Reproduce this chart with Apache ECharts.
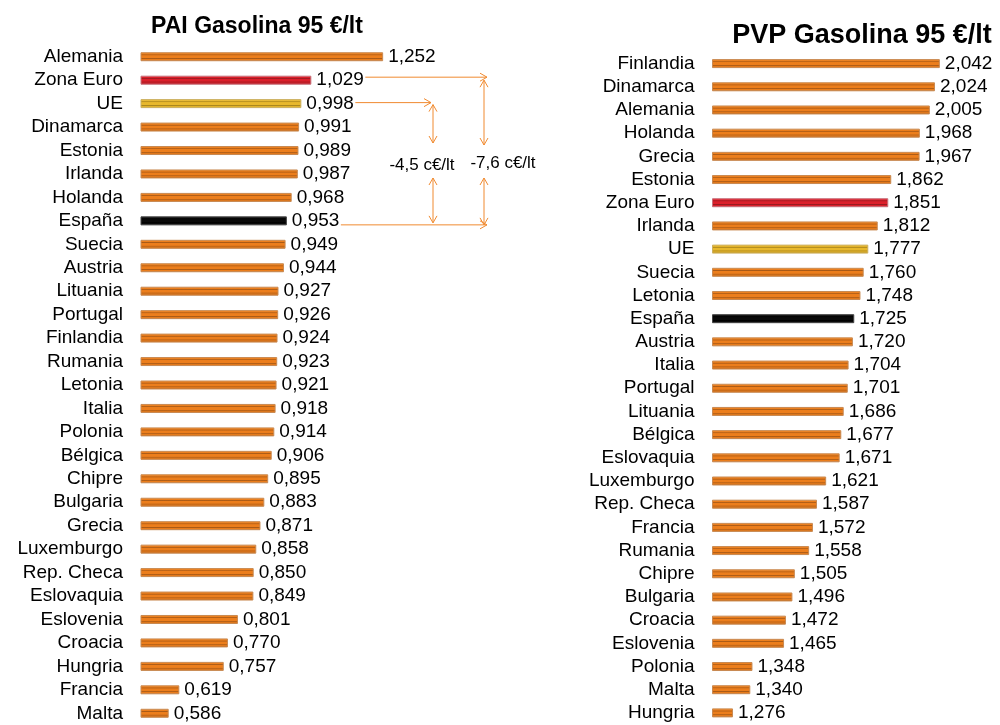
<!DOCTYPE html>
<html>
<head>
<meta charset="utf-8">
<script src="https://cdn.jsdelivr.net/npm/echarts@6/dist/echarts.min.js"></script>
<style>
html,body{margin:0;padding:0;background:#fff;}
#c{width:1000px;height:725px;}
</style>
</head>
<body>
<div id="c"></div>
<script>
var paiCategories = ['Alemania','Zona Euro','UE','Dinamarca','Estonia','Irlanda','Holanda','España','Suecia','Austria','Lituania','Portugal','Finlandia','Rumania','Letonia','Italia','Polonia','Bélgica','Chipre','Bulgaria','Grecia','Luxemburgo','Rep. Checa','Eslovaquia','Eslovenia','Croacia','Hungria','Francia','Malta'];
var paiValues = [1.252,1.029,0.998,0.991,0.989,0.987,0.968,0.953,0.949,0.944,0.927,0.926,0.924,0.923,0.921,0.918,0.914,0.906,0.895,0.883,0.871,0.858,0.850,0.849,0.801,0.770,0.757,0.619,0.586];
var pvpCategories = ['Finlandia','Dinamarca','Alemania','Holanda','Grecia','Estonia','Zona Euro','Irlanda','UE','Suecia','Letonia','España','Austria','Italia','Portugal','Lituania','Bélgica','Eslovaquia','Luxemburgo','Rep. Checa','Francia','Rumania','Chipre','Bulgaria','Croacia','Eslovenia','Polonia','Malta','Hungria'];
var pvpValues = [2.042,2.024,2.005,1.968,1.967,1.862,1.851,1.812,1.777,1.760,1.748,1.725,1.720,1.704,1.701,1.686,1.677,1.671,1.621,1.587,1.572,1.558,1.505,1.496,1.472,1.465,1.348,1.340,1.276];
var annotLabels = ['-4,5 c€/lt', '-7,6 c€/lt'];

function grad(light, base, dark, bottom) {
  return new echarts.graphic.LinearGradient(0, 0, 0, 1, [
    {offset: 0, color: light},
    {offset: 0.2, color: base},
    {offset: 0.3, color: dark},
    {offset: 0.38, color: base},
    {offset: 0.62, color: base},
    {offset: 0.7, color: dark},
    {offset: 0.8, color: base},
    {offset: 1, color: bottom}
  ]);
}
var styles = {
  orange: {color: grad('#F39235', '#EC7E1C', '#A95A16', '#A35816'), borderColor: '#C98A52'},
  red: {color: grad('#E8444C', '#DC1F2A', '#961A20', '#921A20'), borderColor: '#C8707A'},
  yellow: {color: grad('#F2CC55', '#E8B82C', '#A5821C', '#A07F1C'), borderColor: '#CCB060'},
  black: {color: grad('#2A2A2A', '#0A0A0A', '#000000', '#000000'), borderColor: '#444444'}
};
function styleFor(name) {
  if (name === 'Zona Euro') return styles.red;
  if (name === 'UE') return styles.yellow;
  if (name === 'España') return styles.black;
  return styles.orange;
}
function buildData(cats, vals) {
  return vals.map(function (v, i) {
    var s = styleFor(cats[i]);
    return {value: v, itemStyle: {color: s.color, borderColor: s.borderColor, borderWidth: 1}};
  });
}
function fmt(p) { return p.value.toFixed(3).replace('.', ','); }

var FONT = 'Liberation Sans, Arial, sans-serif';
var FS = 19;
var chart = echarts.init(document.getElementById('c'));
var option = {
  animation: false,
  title: [
    {text: 'PAI Gasolina 95 €/lt', left: 252, top: 10, textAlign: 'center',
     textStyle: {fontFamily: FONT, fontSize: 23, fontWeight: 'bold', color: '#000'}},
    {text: 'PVP Gasolina 95 €/lt', left: 857, top: 17, textAlign: 'center',
     textStyle: {fontFamily: FONT, fontSize: 27, fontWeight: 'bold', color: '#000'}}
  ],
  grid: [
    {left: 141, top: 45, width: 322, height: 680},
    {left: 712.5, top: 52, width: 270, height: 672.5}
  ],
  xAxis: [
    {gridIndex: 0, type: 'value', min: 0.5, max: 1.5, show: false},
    {gridIndex: 1, type: 'value', min: 1.2, max: 2.2, show: false}
  ],
  yAxis: [
    {gridIndex: 0, type: 'category', data: paiCategories, inverse: true,
     axisLine: {show: false}, axisTick: {show: false}, splitLine: {show: false},
     axisLabel: {interval: 0, margin: 18, fontFamily: FONT, fontSize: FS, color: '#000'}},
    {gridIndex: 1, type: 'category', data: pvpCategories, inverse: true,
     axisLine: {show: false}, axisTick: {show: false}, splitLine: {show: false},
     axisLabel: {interval: 0, margin: 18, fontFamily: FONT, fontSize: FS, color: '#000'}}
  ],
  series: [
    {type: 'bar', xAxisIndex: 0, yAxisIndex: 0, barWidth: 9, data: buildData(paiCategories, paiValues),
     label: {show: true, position: 'right', distance: 5, formatter: fmt, fontFamily: FONT, fontSize: FS, color: '#000'}},
    {type: 'bar', xAxisIndex: 1, yAxisIndex: 1, barWidth: 9, data: buildData(pvpCategories, pvpValues),
     label: {show: true, position: 'right', distance: 5, formatter: fmt, fontFamily: FONT, fontSize: FS, color: '#000'}}
  ]
};
chart.setOption(option);

// Annotation arrows (PAI chart), positioned from the axes
function px(cat, val) {
  return chart.convertToPixel({gridIndex: 0}, [val, cat]);
}
var ze = paiCategories.indexOf('Zona Euro');
var ue = paiCategories.indexOf('UE');
var es = paiCategories.indexOf('España');
var pZE = px(ze, paiValues[ze]);
var pUE = px(ue, paiValues[ue]);
var pES = px(es, paiValues[es]);
var xA = 433, xB = 484;
var yZE = pZE[1] - 3, yUE = pUE[1] - 1, yES = pES[1] + 4;
var yTxt = 165;
var AC = '#F08A30';
var ls = {stroke: AC, lineWidth: 1};
function line(x1, y1, x2, y2) {
  return {type: 'line', shape: {x1: x1, y1: y1, x2: x2, y2: y2}, style: ls, silent: true};
}
function chevR(x, y) {
  return {type: 'polyline', shape: {points: [[x - 7, y - 4], [x, y], [x - 7, y + 4]]}, style: {stroke: AC, lineWidth: 1, fill: null}, silent: true};
}
function chevU(x, y) {
  return {type: 'polyline', shape: {points: [[x - 4, y + 7], [x, y], [x + 4, y + 7]]}, style: {stroke: AC, lineWidth: 1, fill: null}, silent: true};
}
function chevD(x, y) {
  return {type: 'polyline', shape: {points: [[x - 4, y - 7], [x, y], [x + 4, y - 7]]}, style: {stroke: AC, lineWidth: 1, fill: null}, silent: true};
}
var g = [];
g.push(line(pZE[0] + 54, yZE, xB + 3, yZE), chevR(xB + 3, yZE));
g.push(line(pUE[0] + 54, yUE, xA - 2, yUE), chevR(xA - 2, yUE));
g.push(line(pES[0] + 54, yES, xB + 3, yES), chevR(xB + 3, yES));
// vertical double arrows
g.push(line(xA, yUE + 2, xA, yTxt - 22), chevU(xA, yUE + 2), chevD(xA, yTxt - 22));
g.push(line(xA, yTxt + 13, xA, yES - 2), chevU(xA, yTxt + 13), chevD(xA, yES - 2));
g.push(line(xB, yZE + 3, xB, yTxt - 20), chevU(xB, yZE + 3), chevD(xB, yTxt - 20));
g.push(line(xB, yTxt + 13, xB, yES), chevU(xB, yTxt + 13), chevD(xB, yES));
g.push({type: 'text', x: 422, y: yTxt, style: {text: annotLabels[0], fontFamily: FONT, fontSize: 17, fill: '#000', textAlign: 'center', textVerticalAlign: 'middle'}, silent: true});
g.push({type: 'text', x: 503, y: yTxt - 2, style: {text: annotLabels[1], fontFamily: FONT, fontSize: 17, fill: '#000', textAlign: 'center', textVerticalAlign: 'middle'}, silent: true});
chart.setOption({graphic: {elements: g}});
</script>
</body>
</html>
